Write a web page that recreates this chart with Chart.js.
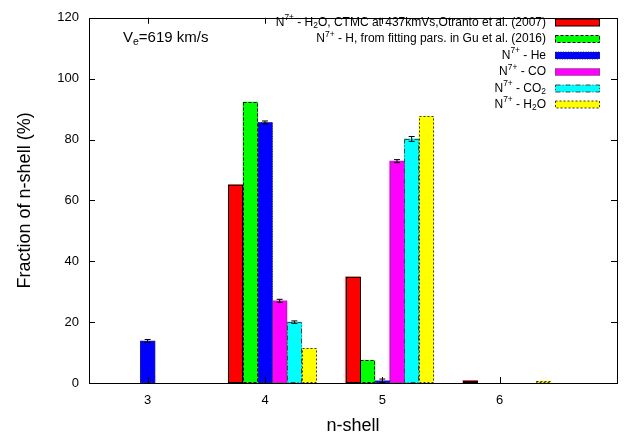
<!DOCTYPE html>
<html>
<head>
<meta charset="utf-8">
<script src="https://cdn.jsdelivr.net/npm/chart.js@4.4.1/dist/chart.umd.min.js"></script>
<style>
  html, body { margin: 0; padding: 0; background: #fff; }
  canvas { display: block; }
</style>
</head>
<body>
<canvas id="shells" width="632" height="439"></canvas>
<script>
// ── data: fraction of capture into each n-shell (%) ──
const SHELLS = [3, 4, 5, 6];

const OTRANTO_H2O = [null, 65.2, 34.9, 0.8];
const GU_H        = [null, 92.3, 7.4, null];
const N7_HE       = [13.8, 85.6, 0.7, null];
const N7_CO       = [null, 27.0, 72.9, null];
const N7_CO2      = [null, 20.0, 80.2, null];
const N7_H2O      = [null, 11.4, 87.6, 0.6];

// error bars (%)
const ERR_HE  = [0.5, 0.5, 0.6, 0];
const ERR_CO  = [0, 0.5, 0.5, 0];
const ERR_CO2 = [0, 0.4, 0.8, 0];

const Y_TICKS = [0, 20, 40, 60, 80, 100, 120];

// legend labels as rich text segments: sup / sub
const LBL = {
  otranto: [['N'], ['7+', 'sup'], [' - H'], ['2', 'sub'], ['O, CTMC at 437kmVs,Otranto et al. (2007)']],
  gu:      [['N'], ['7+', 'sup'], [' - H, from fitting pars. in Gu et al. (2016)']],
  he:      [['N'], ['7+', 'sup'], [' - He']],
  co:      [['N'], ['7+', 'sup'], [' - CO']],
  co2:     [['N'], ['7+', 'sup'], [' - CO'], ['2', 'sub']],
  h2o:     [['N'], ['7+', 'sup'], [' - H'], ['2', 'sub'], ['O']]
};

const FONT = '"Liberation Sans", Arial, Helvetica, sans-serif';
const BAR_STEP = 0.125;   // bar width in n units
const TICK_LEN = 6;

const SERIES = [
  { vals: OTRANTO_H2O, err: null,    lbl: LBL.otranto, color: '#ff0000', edge: '#000', dash: [],           off: -2 },
  { vals: GU_H,        err: null,    lbl: LBL.gu,      color: '#00ff00', edge: '#000', dash: [3, 2],       off: -1 },
  { vals: N7_HE,       err: ERR_HE,  lbl: LBL.he,      color: '#0000ff', edge: '#333', dash: [1, 1.5],     off: 0 },
  { vals: N7_CO,       err: ERR_CO,  lbl: LBL.co,      color: '#ff00ff', edge: '#555', dash: [1, 1],       off: 1 },
  { vals: N7_CO2,      err: ERR_CO2, lbl: LBL.co2,     color: '#00ffff', edge: '#444', dash: [5, 2, 1, 2], off: 2 },
  { vals: N7_H2O,      err: null,    lbl: LBL.h2o,     color: '#ffff00', edge: '#333', dash: [2, 2],       off: 3 }
];

const LEGEND_ROWS = [22.5, 39, 55.5, 72, 88.5, 104.5];

function richWidth(ctx, segs, size) {
  let w = 0;
  segs.forEach(([t, k]) => {
    ctx.font = (k ? size * 0.7 : size) + 'px ' + FONT;
    w += ctx.measureText(t).width;
  });
  return w;
}

function drawRich(ctx, segs, x, y, size) {
  ctx.textBaseline = 'middle';
  ctx.textAlign = 'left';
  segs.forEach(([t, k]) => {
    const s = k ? size * 0.7 : size;
    const dy = k === 'sup' ? -size * 0.38 : k === 'sub' ? size * 0.3 : 0;
    ctx.font = s + 'px ' + FONT;
    ctx.fillText(t, x, y + dy);
    x += ctx.measureText(t).width;
  });
}

// frame, inward ticks, dashed bar edges, error bars, legend, velocity label
const decorations = {
  id: 'decorations',
  afterDatasetsDraw(chart) {
    const { ctx, chartArea: a, scales: { x, y } } = chart;
    ctx.save();

    chart.data.datasets.forEach((ds, i) => {
      const s = SERIES[i];
      chart.getDatasetMeta(i).data.forEach((bar, j) => {
        const v = ds.data[j].y;
        if (!v) return;
        const p = bar.getProps(['x', 'y', 'base', 'width'], true);
        ctx.strokeStyle = s.edge;
        ctx.lineWidth = 1;
        ctx.setLineDash(s.dash);
        ctx.strokeRect(Math.round(p.x - p.width / 2) + 0.5, Math.round(p.y) + 0.5,
                       Math.round(p.width) - 1, Math.round(p.base - p.y) - 1);
        ctx.setLineDash([]);
        if (s.err && s.err[j]) {
          const y1 = y.getPixelForValue(v + s.err[j]);
          const y2 = y.getPixelForValue(v - s.err[j]);
          ctx.strokeStyle = '#000';
          ctx.beginPath();
          ctx.moveTo(p.x, y1); ctx.lineTo(p.x, y2);
          ctx.moveTo(p.x - 3, y1); ctx.lineTo(p.x + 3, y1);
          ctx.moveTo(p.x - 3, y2); ctx.lineTo(p.x + 3, y2);
          ctx.stroke();
        }
      });
    });

    // box + ticks pointing inward
    ctx.strokeStyle = '#000';
    ctx.lineWidth = 1;
    ctx.strokeRect(Math.round(a.left) + 0.5, Math.round(a.top) + 0.5,
                   Math.round(a.right - a.left), Math.round(a.bottom - a.top));
    ctx.beginPath();
    Y_TICKS.forEach(t => {
      const py = Math.round(y.getPixelForValue(t)) + 0.5;
      ctx.moveTo(a.left, py); ctx.lineTo(a.left + TICK_LEN, py);
      ctx.moveTo(a.right, py); ctx.lineTo(a.right - TICK_LEN, py);
    });
    SHELLS.forEach(n => {
      const px = Math.round(x.getPixelForValue(n)) + 0.5;
      ctx.moveTo(px, a.bottom); ctx.lineTo(px, a.bottom - TICK_LEN);
      ctx.moveTo(px, a.top); ctx.lineTo(px, a.top + TICK_LEN);
    });
    ctx.stroke();

    // legend, text right-aligned against the swatches
    SERIES.forEach((s, i) => {
      const cy = LEGEND_ROWS[i];
      ctx.fillStyle = '#000';
      const w = richWidth(ctx, s.lbl, 12);
      drawRich(ctx, s.lbl, 546 - w, cy, 12);
      ctx.fillStyle = s.color;
      ctx.fillRect(555, cy - 3.5, 45, 7);
      ctx.strokeStyle = s.edge;
      ctx.setLineDash(s.dash);
      ctx.strokeRect(555.5, cy - 3.5, 44, 7);
      ctx.setLineDash([]);
    });

    ctx.fillStyle = '#000';
    drawRich(ctx, [['V'], ['e', 'sub'], ['=619 km/s']], 123, 38, 15);
    ctx.restore();
  }
};

new Chart(document.getElementById('shells'), {
  type: 'bar',
  data: {
    datasets: SERIES.map(s => ({
      data: SHELLS.map((n, j) => ({ x: n + s.off * BAR_STEP, y: s.vals[j] })),
      backgroundColor: s.color,
      borderWidth: 0,
      grouped: false,
      barThickness: 14.6
    }))
  },
  options: {
    responsive: false,
    animation: false,
    devicePixelRatio: 1,
    layout: { padding: { top: 9, right: 15, left: 0, bottom: 0 } },
    plugins: { legend: { display: false }, tooltip: { enabled: false } },
    scales: {
      x: {
        type: 'linear', min: 2.5, max: 7, offset: false,
        grid: { display: false, offset: false, drawTicks: false },
        border: { display: false },
        afterBuildTicks: s => { s.ticks = SHELLS.map(v => ({ value: v })); },
        ticks: { font: { family: FONT, size: 13 }, color: '#000', padding: 10 },
        title: { display: true, text: 'n-shell', font: { family: FONT, size: 18 }, color: '#000', padding: { top: 0, bottom: 2 } },
        afterFit: s => { s.height = 56; }
      },
      y: {
        min: 0, max: 120,
        grid: { display: false, drawTicks: false },
        border: { display: false },
        afterBuildTicks: s => { s.ticks = Y_TICKS.map(v => ({ value: v })); },
        ticks: { font: { family: FONT, size: 13 }, color: '#000', padding: 10 },
        title: { display: true, text: 'Fraction of n-shell (%)', font: { family: FONT, size: 18 }, color: '#000', padding: { top: 14, bottom: 0 } },
        afterFit: s => { s.width = 89; }
      }
    }
  },
  plugins: [decorations]
});
</script>
</body>
</html>
